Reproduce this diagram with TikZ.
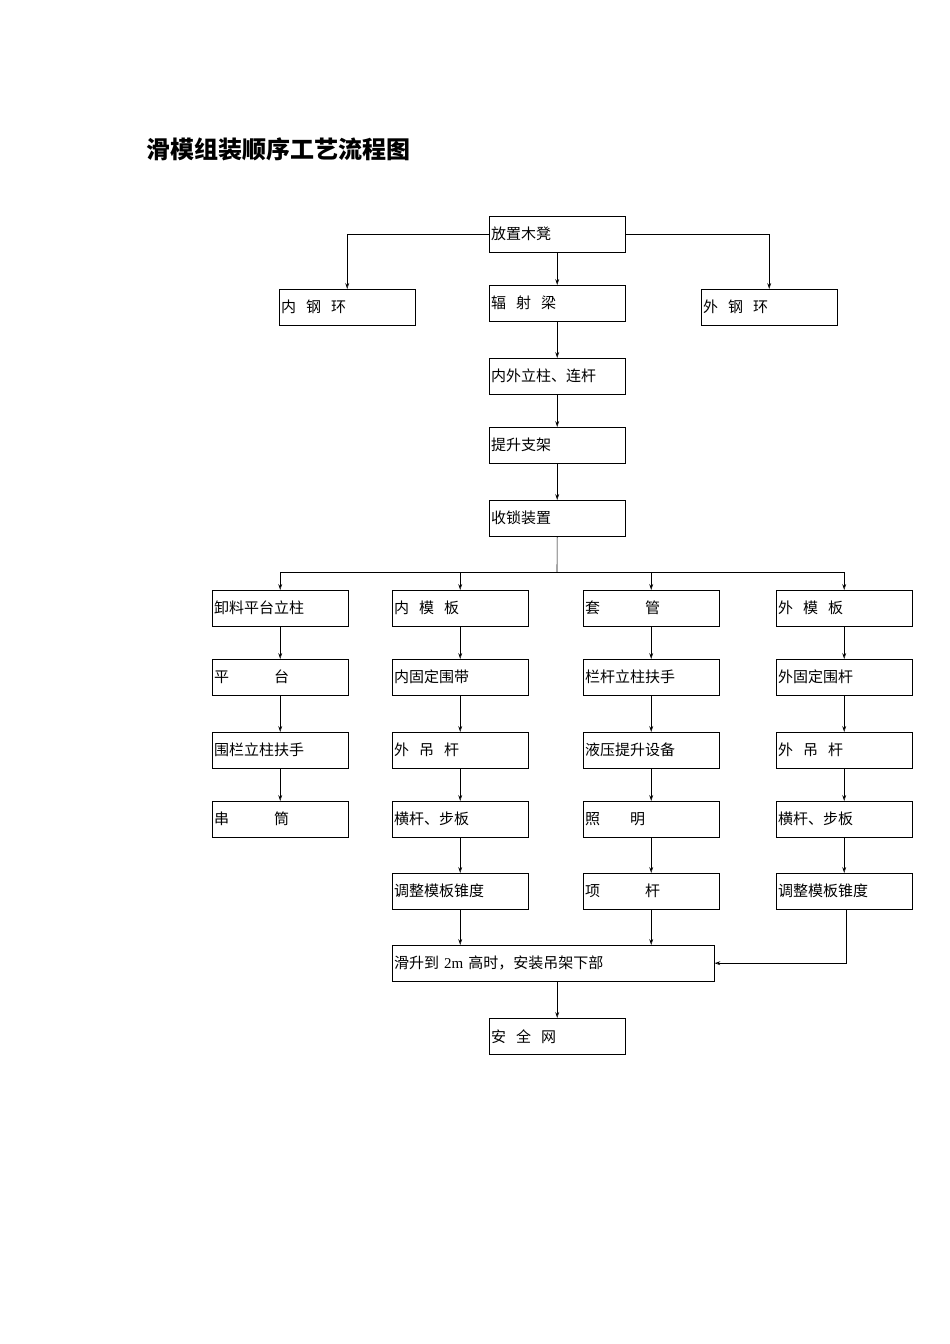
\documentclass[tikz,border=0pt]{standalone}
\usepackage{fontspec}
\setmainfont{Liberation Serif}
\newfontfamily\cjk{Noto Sans CJK SC}
\usetikzlibrary{arrows.meta}
\begin{document}
\begin{tikzpicture}[x=1pt,y=-1pt,
 bx/.style={draw,anchor=north west,minimum width=136pt,minimum height=36pt,text width=132pt,inner sep=2pt,align=left,font=\cjk\fontsize{15}{15}\selectfont},
 wb/.style={bx,minimum width=322pt,text width=318pt},
 ar/.style={-{Stealth[length=6pt,width=4pt,open]},line width=0.6pt},
 ln/.style={line width=0.6pt}]
\useasboundingbox (0,0) rectangle (950,1344);
\node[anchor=west,font=\cjk\bfseries\fontsize{24}{24}\selectfont] (t) at (143,149) {滑模组装顺序工艺流程图};
\node[bx] (a) at (489,216) {放置木凳};
\node[bx] (b) at (279,289) {内\ \ 钢\ \ 环};
\node[bx] (c) at (489,285) {辐\ \ 射\ \ 梁};
\node[bx] (d) at (701,289) {外\ \ 钢\ \ 环};
\node[bx] (e) at (489,358) {内外立柱、连杆};
\node[bx] (f) at (489,427) {提升支架};
\node[bx] (g) at (489,500) {收锁装置};
\node[bx] (p1) at (212,590) {卸料平台立柱};
\node[bx] (p2) at (212,659) {平\hspace{3em}台};
\node[bx] (p3) at (212,732) {围栏立柱扶手};
\node[bx] (p4) at (212,801) {串\hspace{3em}筒};
\node[bx] (q1) at (392,590) {内\ \ 模\ \ 板};
\node[bx] (q2) at (392,659) {内固定围带};
\node[bx] (q3) at (392,732) {外\ \ 吊\ \ 杆};
\node[bx] (q4) at (392,801) {横杆、步板};
\node[bx] (q5) at (392,873) {调整模板锥度};
\node[bx] (r1) at (583,590) {套\hspace{3em}管};
\node[bx] (r2) at (583,659) {栏杆立柱扶手};
\node[bx] (r3) at (583,732) {液压提升设备};
\node[bx] (r4) at (583,801) {照\hspace{2em}明};
\node[bx] (r5) at (583,873) {项\hspace{3em}杆};
\node[bx] (s1) at (776,590) {外\ \ 模\ \ 板};
\node[bx] (s2) at (776,659) {外固定围杆};
\node[bx] (s3) at (776,732) {外\ \ 吊\ \ 杆};
\node[bx] (s4) at (776,801) {横杆、步板};
\node[bx] (s5) at (776,873) {调整模板锥度};
\node[wb] (h) at (392,945) {滑升到 {\rmfamily 2m} 高时，安装吊架下部};
\node[bx] (n) at (489,1018) {安\ \ 全\ \ 网};
\draw[ar] (a.west) -| (b.north);
\draw[ar] (a.east) -| (d.north);
\draw[ar] (a) -- (c);
\draw[ar] (c) -- (e);
\draw[ar] (e) -- (f);
\draw[ar] (f) -- (g);
\coordinate (bus) at (557,572);
\draw[ln] (g.south) -- (bus);
\draw[ln] (p1.north |- bus) -- (s1.north |- bus);
\foreach \k in {p1,q1,r1,s1} \draw[ar] (\k.north |- bus) -- (\k.north);
\foreach \u/\v in {p1/p2,p2/p3,p3/p4,q1/q2,q2/q3,q3/q4,q4/q5,r1/r2,r2/r3,r3/r4,r4/r5,s1/s2,s2/s3,s3/s4,s4/s5}
  \draw[ar] (\u) -- (\v);
\draw[ar] (q5.south) -- (q5.south |- h.north);
\draw[ar] (r5.south) -- (r5.south |- h.north);
\draw[ar] ([xshift=2pt]s5.south) |- (h.east);
\draw[ar] (h.south -| n.north) -- (n.north);
\end{tikzpicture}
\end{document}
